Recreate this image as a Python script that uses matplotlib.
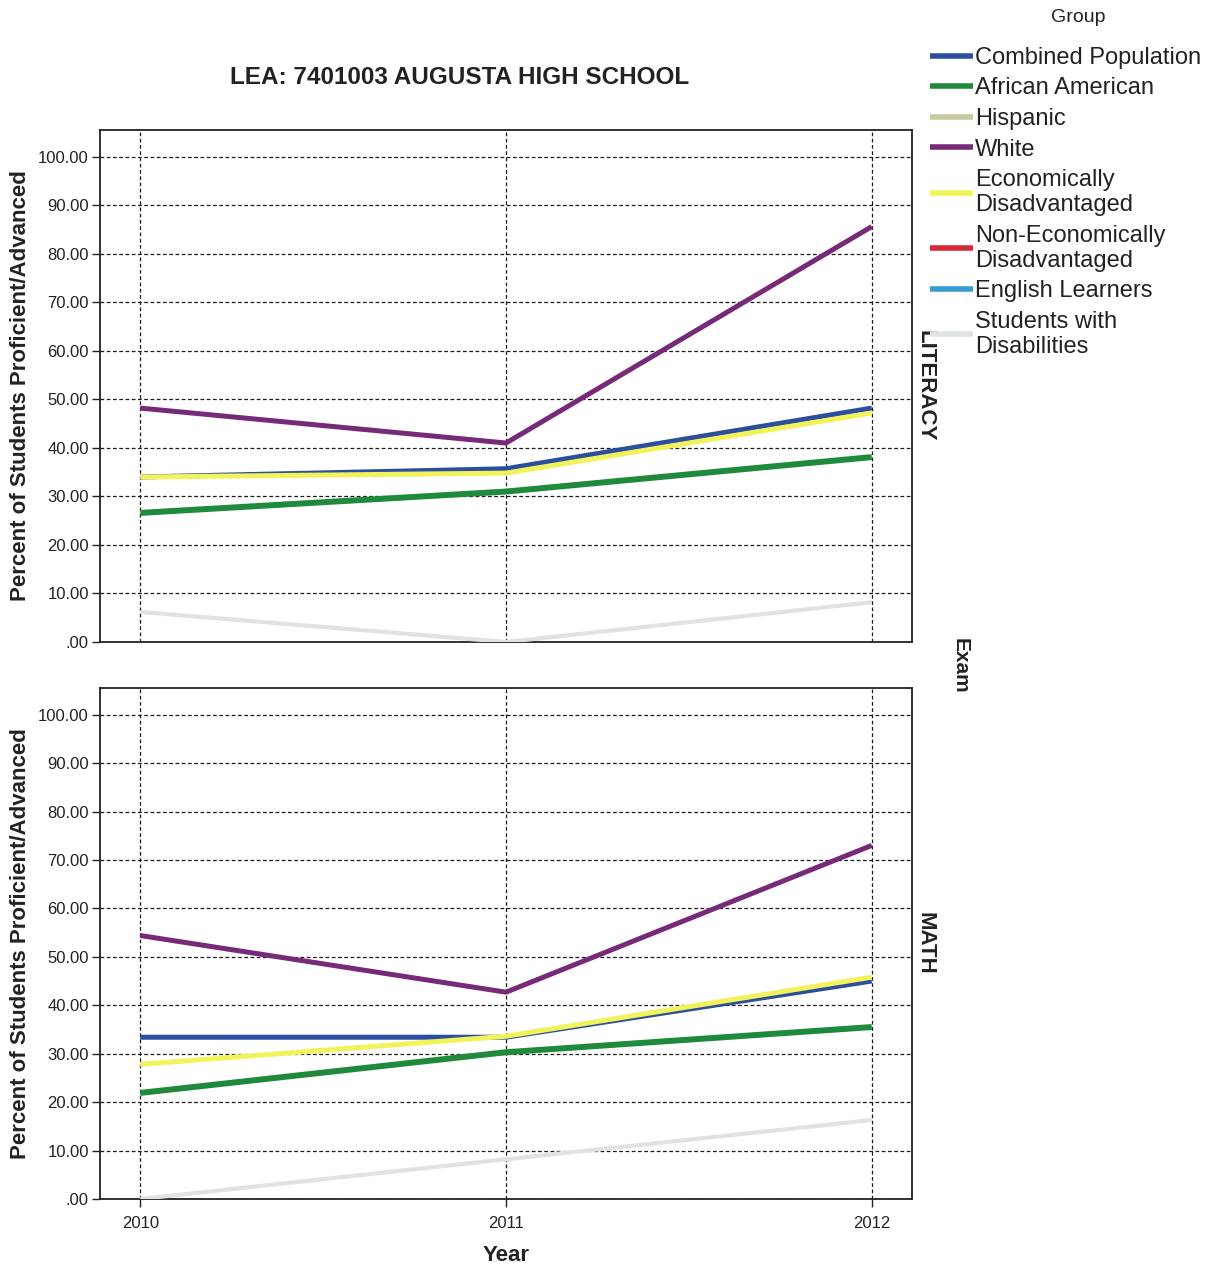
import numpy as np
import matplotlib
matplotlib.use("Agg")
import matplotlib.pyplot as plt
from matplotlib.ticker import FuncFormatter

plt.rcParams['font.family'] = ['Liberation Sans', 'DejaVu Sans']

years = [2010, 2011, 2012]
groups = ["Combined Population", "African American", "Hispanic", "White",
          "Economically\nDisadvantaged", "Non-Economically\nDisadvantaged",
          "English Learners", "Students with\nDisabilities"]
colors = ["#2b4f9e", "#1f8a3c", "#c9caa0", "#762a78",
          "#f2f25a", "#d42a3a", "#3a9bd1", "#dfe3e3"]
widths = [3.6, 4.3, 3.6, 3.6, 3.6, 3.6, 3.6, 3.0]

nan = np.nan
# literacy values per group (Hispanic, Non-Econ, EL not reported)
literacy = [
    [34.0, 35.7, 48.2],
    [26.6, 31.0, 38.1],
    [nan, nan, nan],
    [48.2, 41.0, 85.6],
    [34.0, 34.8, 47.2],
    [nan, nan, nan],
    [nan, nan, nan],
    [6.2, 0.0, 8.2],
]
math_vals = [
    [33.4, 33.4, 45.0],
    [21.9, 30.3, 35.5],
    [nan, nan, nan],
    [54.4, 42.7, 73.0],
    [27.8, 33.6, 45.8],
    [nan, nan, nan],
    [nan, nan, nan],
    [0.0, 8.2, 16.3],
]
exams = ["LITERACY", "MATH"]

W, H = 1222, 1271
fig = plt.figure(figsize=(W / 100, H / 100), dpi=100)
txt = "#222222"

def fmt(v, pos):
    s = f"{v:.2f}"
    return s[1:] if s.startswith("0") else s

ax_top = fig.add_axes([100 / W, 1 - 642 / H, 812 / W, 512 / H])
ax_bot = fig.add_axes([100 / W, 1 - 1199 / H, 812 / W, 511 / H])

handles = []
for ax, data, exam in zip([ax_top, ax_bot], [literacy, math_vals], exams):
    for i, g in enumerate(groups):
        ln, = ax.plot(years, data[i], color=colors[i], lw=widths[i],
                      solid_capstyle="butt", zorder=3)
        if ax is ax_top:
            handles.append(ln)
    ax.set_xlim(2009.89, 2012.11)
    ax.set_ylim(0, 105.5)
    ax.set_yticks(np.arange(0, 101, 10))
    ax.yaxis.set_major_formatter(FuncFormatter(fmt))
    ax.set_xticks(years)
    ax.grid(True, color="#1a1a1a", linestyle=(0, (3, 2)), linewidth=0.9, zorder=1)
    ax.tick_params(axis="y", direction="out", length=6, width=1, labelsize=12,
                   colors=txt, pad=2)
    ax.tick_params(axis="x", direction="out", length=6, width=1, labelsize=12,
                   colors=txt, pad=6)
    for sp in ax.spines.values():
        sp.set_linewidth(1.3)
        sp.set_color("#222222")
    ax.set_ylabel("Percent of Students Proficient/Advanced", fontsize=16,
                  fontweight="bold", color=txt, labelpad=5)
    ax.text(1.003, 0.5, exam, transform=ax.transAxes, rotation=270,
            ha="left", va="center", fontsize=16, fontweight="bold", color=txt)

ax_top.tick_params(axis="x", length=0, labelbottom=False)
ax_bot.set_xlabel("Year", fontsize=16, fontweight="bold", color=txt, labelpad=10)

fig.text(460 / W, 1 - 78 / H, "LEA: 7401003 AUGUSTA HIGH SCHOOL", ha="center",
         va="center", fontsize=17.5, fontweight="bold", color=txt)
fig.text(960 / W, 1 - 666 / H, "Exam", rotation=270, ha="center", va="center",
         fontsize=15, fontweight="bold", color=txt)
fig.text(1078 / W, 1 - 18 / H, "Group", ha="center", va="center",
         fontsize=14, color=txt)

leg = fig.legend(handles, groups, loc="upper left",
                 bbox_to_anchor=(930 / W, 1 - 47 / H), frameon=False,
                 fontsize=17, handlelength=1.8, handletextpad=0.1,
                 labelspacing=0.36, borderaxespad=0, borderpad=0)
for t in leg.get_texts():
    t.set_color(txt)
    t.set_linespacing(1.18)
for lh in leg.get_lines():
    lh.set_linewidth(4)

fig.savefig("out.png", dpi=100, facecolor="white")
